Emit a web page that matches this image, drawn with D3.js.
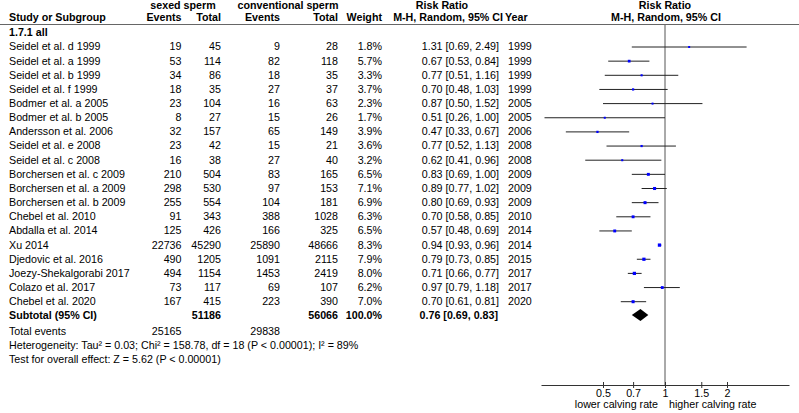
<!DOCTYPE html>
<html>
<head>
<meta charset="utf-8">
<script src="https://cdn.jsdelivr.net/npm/d3@7"></script>
<style>
  body { margin: 0; background: #fff; }
  svg text { font-family: "Liberation Sans", Arial, sans-serif; font-size: 10.7px; fill: #000; }
  .b { font-weight: bold; }
</style>
</head>
<body>
<svg id="svg1"></svg>
<script>
// data
const studies = ["Seidel et al. d 1999", "Seidel et al. a 1999", "Seidel et al. b 1999", "Seidel et al. f 1999",
  "Bodmer et al. a 2005", "Bodmer et al. b 2005", "Andersson et al. 2006", "Seidel et al. e 2008",
  "Seidel et al. c 2008", "Borchersen et al. c 2009", "Borchersen et al. a 2009", "Borchersen et al. b 2009",
  "Chebel et al. 2010", "Abdalla et al. 2014", "Xu 2014", "Djedovic et al. 2016",
  "Joezy-Shekalgorabi 2017", "Colazo et al. 2017", "Chebel et al. 2020"];
const sexedEvents = [19, 53, 34, 18, 23, 8, 32, 23, 16, 210, 298, 255, 91, 125, 22736, 490, 494, 73, 167];
const sexedTotal = [45, 114, 86, 35, 104, 27, 157, 42, 38, 504, 530, 554, 343, 426, 45290, 1205, 1154, 117, 415];
const convEvents = [9, 82, 18, 27, 16, 15, 65, 15, 27, 83, 97, 104, 388, 166, 25890, 1091, 1453, 69, 223];
const convTotal = [28, 118, 35, 37, 63, 26, 149, 21, 40, 165, 153, 181, 1028, 325, 48666, 2115, 2419, 107, 390];
const weights = [1.8, 5.7, 3.3, 3.7, 2.3, 1.7, 3.9, 3.6, 3.2, 6.5, 7.1, 6.9, 6.3, 6.5, 8.3, 7.9, 8.0, 6.2, 7.0];
const rr = [1.31, 0.67, 0.77, 0.70, 0.87, 0.51, 0.47, 0.77, 0.62, 0.83, 0.89, 0.80, 0.70, 0.57, 0.94, 0.79, 0.71, 0.97, 0.70];
const lo = [0.69, 0.53, 0.51, 0.48, 0.50, 0.26, 0.33, 0.52, 0.41, 0.69, 0.77, 0.69, 0.58, 0.48, 0.93, 0.73, 0.66, 0.79, 0.61];
const hi = [2.49, 0.84, 1.16, 1.03, 1.52, 1.00, 0.67, 1.13, 0.96, 1.00, 1.02, 0.93, 0.85, 0.69, 0.96, 0.85, 0.77, 1.18, 0.81];
const years = [1999, 1999, 1999, 1999, 2005, 2005, 2006, 2008, 2008, 2009, 2009, 2009, 2010, 2014, 2014, 2015, 2017, 2017, 2020];

const subtotal = {sexedTotal: 51186, convTotal: 56066, weight: "100.0%", rr: 0.76, lo: 0.69, hi: 0.83};
const totalEvents = [25165, 29838];
const tickValues = [0.5, 0.7, 1, 1.5, 2];
const footLines = [
  "Heterogeneity: Tau\u00b2 = 0.03; Chi\u00b2 = 158.78, df = 18 (P < 0.00001); I\u00b2 = 89%",
  "Test for overall effect: Z = 5.62 (P < 0.00001)"
];

const width = 799, height = 413;
const svg = d3.select('#svg1').attr('width', width).attr('height', height);

const rows = studies.map((s, i) => ({
  study: s, se: sexedEvents[i], st: sexedTotal[i], ce: convEvents[i], ct: convTotal[i],
  w: weights[i], rr: rr[i], lo: lo[i], hi: hi[i], year: years[i]
}));

// scales
const x = d3.scaleLog().domain([0.25, 4]).range([541, 789]);
const y = d3.scalePoint().domain(studies).range([46.5, 301.2]);
const size = d3.scaleSqrt().domain([0, 8.3]).range([0, 3.3]);
const fmt = d => d.toFixed(2);
const base = 3.9; // text baseline offset from row centre

// column positions (right edges unless noted)
const col = {study: 9, se: 181.5, st: 221, ce: 280, ct: 338, w: 382, rr: 499, year: 508};

function txt(xp, yp, s, anchor, cls) {
  svg.append('text').attr('x', xp).attr('y', yp + base)
    .attr('text-anchor', anchor || 'start').attr('class', cls || null).text(s);
}

// header
txt(183, 5, 'sexed sperm', 'middle', 'b');
txt(288, 5, 'conventional sperm', 'middle', 'b');
txt(442, 5, 'Risk Ratio', 'middle', 'b');
txt(x(1), 5, 'Risk Ratio', 'middle', 'b');
txt(col.study, 17.5, 'Study or Subgroup', 'start', 'b');
txt(col.se, 17.5, 'Events', 'end', 'b');
txt(col.st, 17.5, 'Total', 'end', 'b');
txt(col.ce, 17.5, 'Events', 'end', 'b');
txt(col.ct, 17.5, 'Total', 'end', 'b');
txt(col.w, 17.5, 'Weight', 'end', 'b');
txt(503, 17.5, 'M-H, Random, 95% CI', 'end', 'b');
txt(505, 17.5, 'Year', 'start', 'b');
txt(x(1) + 1, 17.5, 'M-H, Random, 95% CI', 'middle', 'b');

svg.append('line').attr('x1', 0).attr('x2', width).attr('y1', 24.5).attr('y2', 24.5)
  .attr('stroke', '#666').attr('stroke-width', 1);

txt(col.study, 32.3, '1.7.1 all', 'start', 'b');

// table rows
const g = svg.append('g');
const r = g.selectAll('g.row').data(rows).enter().append('g')
  .attr('transform', d => 'translate(0,' + (y(d.study) + base) + ')');
r.append('text').attr('x', col.study).text(d => d.study);
r.append('text').attr('x', col.se).attr('text-anchor', 'end').text(d => d.se);
r.append('text').attr('x', col.st).attr('text-anchor', 'end').text(d => d.st);
r.append('text').attr('x', col.ce).attr('text-anchor', 'end').text(d => d.ce);
r.append('text').attr('x', col.ct).attr('text-anchor', 'end').text(d => d.ct);
r.append('text').attr('x', col.w).attr('text-anchor', 'end').text(d => d.w.toFixed(1) + '%');
r.append('text').attr('x', col.rr).attr('text-anchor', 'end')
  .text(d => fmt(d.rr) + ' [' + fmt(d.lo) + ', ' + fmt(d.hi) + ']');
r.append('text').attr('x', col.year).text(d => d.year);

// subtotal + footer
const ySub = 315;
txt(col.study, ySub, 'Subtotal (95% CI)', 'start', 'b');
txt(col.st, ySub, subtotal.sexedTotal, 'end', 'b');
txt(col.ct, ySub, subtotal.convTotal, 'end', 'b');
txt(col.w, ySub, subtotal.weight, 'end', 'b');
txt(col.rr - 1, ySub, fmt(subtotal.rr) + ' [' + fmt(subtotal.lo) + ', ' + fmt(subtotal.hi) + ']', 'end', 'b');
txt(col.study, 331.3, 'Total events');
txt(col.se, 331.3, totalEvents[0], 'end');
txt(col.ce, 331.3, totalEvents[1], 'end');
txt(col.study, 345.3, footLines[0]);
txt(col.study, 359.3, footLines[1]);

// null line
const axisY = 385;
svg.append('line').attr('x1', x(1)).attr('x2', x(1)).attr('y1', 25).attr('y2', axisY)
  .attr('stroke', '#555').attr('stroke-width', 1);

// CI lines and squares
const plot = svg.append('g');
plot.selectAll('line.ci').data(rows).enter().append('line')
  .attr('x1', d => x(d.lo)).attr('x2', d => x(d.hi))
  .attr('y1', d => y(d.study) + 0.5).attr('y2', d => y(d.study) + 0.5)
  .attr('stroke', '#222').attr('stroke-width', 1);
plot.selectAll('rect.sq').data(rows).enter().append('rect')
  .attr('x', d => x(d.rr) - Math.max(2, size(d.w)) / 2)
  .attr('y', d => y(d.study) + 0.5 - Math.max(2, size(d.w)) / 2)
  .attr('width', d => Math.max(2, size(d.w)))
  .attr('height', d => Math.max(2, size(d.w)))
  .attr('fill', '#0000ff');

// pooled diamond
const dh = 6;
plot.append('path')
  .attr('d', 'M' + x(subtotal.lo) + ',' + ySub + 'L' + x(subtotal.rr) + ',' + (ySub - dh) +
    'L' + x(subtotal.hi) + ',' + ySub + 'L' + x(subtotal.rr) + ',' + (ySub + dh) + 'Z')
  .attr('fill', '#000');

// axis
const ax = svg.append('g').attr('transform', 'translate(0,' + axisY + ')')
  .call(d3.axisBottom(x).tickValues(tickValues).tickFormat(d3.format('')).tickSize(3).tickSizeOuter(0).tickPadding(1.5));
ax.select('.domain').attr('stroke', '#333');
ax.selectAll('.tick line').attr('y1', -3).attr('y2', 3).attr('stroke', '#333');
ax.selectAll('.tick text').style('font-family', '"Liberation Sans", Arial, sans-serif').style('font-size', '10.7px').attr('fill', '#000');

txt(x(1) - 7, 404, 'lower calving rate', 'end');
txt(x(1) + 4, 404, 'higher calving rate', 'start');
</script>
</body>
</html>
